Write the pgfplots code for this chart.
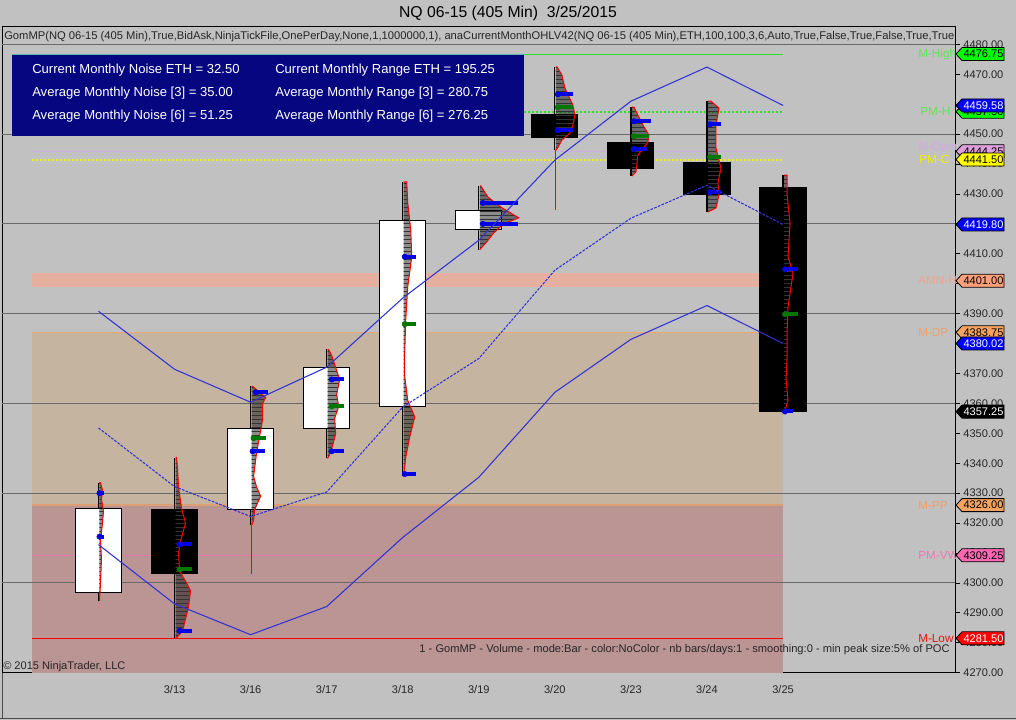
\documentclass[border=0pt]{standalone}
\usepackage{fontspec}
\setmainfont{Liberation Sans}
\usepackage{pgfplots}
\pgfplotsset{compat=1.18}
\usepackage{pgfplotstable}
\usetikzlibrary{patterns}

\definecolor{bgc}{RGB}{193,193,193}
\definecolor{tanz}{RGB}{197,180,160}
\definecolor{pinkz}{RGB}{187,148,148}
\definecolor{amnz}{RGB}{230,176,160}
\definecolor{gridc}{RGB}{105,105,105}
\definecolor{bandc}{RGB}{50,50,215}
\definecolor{navyb}{RGB}{6,6,128}
\definecolor{limeL}{RGB}{40,225,40}
\definecolor{limeT}{RGB}{90,230,90}
\definecolor{limeF}{RGB}{0,255,0}
\definecolor{plumL}{RGB}{210,170,225}
\definecolor{plumF}{RGB}{221,160,221}
\definecolor{yelL}{RGB}{240,240,0}
\definecolor{yelF}{RGB}{255,255,0}
\definecolor{sandy}{RGB}{244,164,96}
\definecolor{sandyT}{RGB}{235,160,110}
\definecolor{salm}{RGB}{255,160,122}
\definecolor{salmT}{RGB}{240,165,140}
\definecolor{hpink}{RGB}{255,105,180}
\definecolor{vwapL}{RGB}{225,120,170}
\definecolor{vwapT}{RGB}{235,120,180}
\definecolor{dgreen}{RGB}{0,120,0}
\definecolor{mblue}{RGB}{0,0,230}
\definecolor{tagblue}{RGB}{0,0,255}
\definecolor{redL}{RGB}{230,20,20}
\definecolor{boxedge}{RGB}{90,180,170}

\newcommand\tickf{\fontsize{8.3}{10}\selectfont}
\newcommand\yp[1]{{44.35+(4480-#1)*2.99213}}

% volume profiles: o = offset to the right of the bar centre (px), p = price
\pgfplotstableread{
o p
1 4294
2 4300
3 4308
2 4314
4 4320
5 4324
3 4328
4 4331
2 4333.5
1 4333.5
}\profA
\pgfplotstableread{
o p
1 4281.5
3 4282
8 4284
11 4288
14 4292
16 4297.4
12 4300
5 4304
4 4310
6 4314
11 4320
7 4325
4 4332
3 4338
2 4342
1 4342
}\profB
\pgfplotstableread{
o p
1 4319.2
3 4321
4 4324.5
10 4329
6 4332
3 4335.6
6 4343.6
9 4349
12 4354.6
12 4360
15 4362
8 4364
2 4365.7
1 4365.7
}\profC
\pgfplotstableread{
o p
1 4341.6
3 4343
6 4346
9 4350
8 4355
12 4359
10 4363
13 4368
9 4372
5 4376
2 4378
1 4378
}\profD
\pgfplotstableread{
o p
1 4335.6
3 4342
7 4348.8
12 4355.5
5 4361
2 4369
2 4377
3 4388
5 4399
9 4409
8 4418
5 4427
4 4434
1 4434
}\profE
\pgfplotstableread{
o p
1 4411.4
7 4413.6
15 4417
25 4420
40 4422
22 4425.6
9 4429
2 4432.7
1 4432.7
}\profF
\pgfplotstableread{
o p
1 4444.6
3 4445.5
7 4448
15 4450.3
18 4453
20 4456.4
18 4459.7
10 4465.4
7 4469.8
2 4472.5
1 4472.5
}\profG
\pgfplotstableread{
o p
1 4436
5 4437.3
7 4443
17 4447.3
18 4449.7
12 4453
7 4456.3
3 4459
1 4459
}\profH
\pgfplotstableread{
o p
1 4424
9 4425.3
12 4429.6
11 4433.9
14 4438.6
9 4445.3
9 4453
12 4458.7
4 4461
1 4461
}\profI
\pgfplotstableread{
o p
1 4356.7
2 4357.5
5 4361
3 4368
4 4375
4 4383.5
5 4392.2
10 4403.5
5 4409
7 4420.2
4 4430
4 4436.3
1 4436.3
}\profJ

\newcommand\profile[2]{%
  \addplot[draw=none, fill=black, fill opacity=0.45, postaction={pattern=horizontal lines, pattern color=black!80}] table[x expr={#1+\thisrow{o}/76.06}, y=p] {#2} -- cycle;
  \addplot[red, line width=0.75pt] table[x expr={#1+\thisrow{o}/76.06}, y=p] {#2};
}

\newcommand\ptag[4]{%
  \filldraw[fill=#2, draw=black, line width=0.6pt] (956,\yp{#1}) -- ++(6,-6.5) -- ++(42,0) -- ++(0,13) -- ++(-42,0) -- cycle;
  \node[text=#3, font=\tickf, inner sep=0pt] at (983.5,\yp{#1}) {#4};
}

\begin{document}
\begin{tikzpicture}
\useasboundingbox (0,0) rectangle (762pt,540pt);
\fill[bgc] (0,0) rectangle (762pt,540pt);
\begin{axis}[
  at={(1.5pt,35.25pt)}, anchor=south west,
  scale only axis, width=714.75pt, height=484.5pt,
  xmin=-1.2687, xmax=11.261, ymin=4269.9, ymax=4485.8,
  axis background/.style={fill=bgc},
  clip mode=individual,
  unbounded coords=jump,
  axis line style={black, line width=0.75pt},
  xtick={1,2,3,4,5,6,7,8,9},
  xticklabels={3/13,3/16,3/17,3/18,3/19,3/20,3/23,3/24,3/25},
  xtick pos=bottom, xtick style={draw=none},
  x tick label style={font=\tickf, text=black!85, yshift=-2pt},
  ytick={4270,4280,...,4480},
  ytick pos=right, yticklabel pos=right,
  tick align=outside, major tick length=3.75pt,
  ytick style={black, line width=0.6pt},
  y tick label style={font=\tickf, text=black!85, xshift=-1pt,
     /pgf/number format/fixed, /pgf/number format/fixed zerofill,
     /pgf/number format/precision=2, /pgf/number format/1000 sep={}},
  /pgf/number format/assume math mode=true,
]
% zones
\addplot[draw=none, fill=pinkz] coordinates {(-0.874,4269.9) (9,4269.9) (9,4326) (-0.874,4326)} -- cycle;
\addplot[draw=none, fill=tanz] coordinates {(-0.874,4326) (9,4326) (9,4383.75) (-0.874,4383.75)} -- cycle;
\addplot[draw=none, fill=amnz] coordinates {(-0.874,4398.8) (9,4398.8) (9,4403.7) (-0.874,4403.7)} -- cycle;
% grid every 30 points
\pgfplotsinvokeforeach{4300,4330,4360,4390,4420,4450,4480}{
  \addplot[gridc, line width=0.75pt] coordinates {(-1.2687,#1) (11.261,#1)};
}
% level lines
\addplot[limeL, line width=0.75pt] coordinates {(-0.874,4476.75) (9,4476.75)};
\addplot[limeL, line width=1.5pt, dash pattern=on 1.5pt off 1.5pt] coordinates {(-0.874,4457.5) (9,4457.5)};
\addplot[plumL, line width=0.75pt] coordinates {(-0.874,4444.25) (9,4444.25)};
\addplot[yelL, line width=1.5pt, dash pattern=on 1.5pt off 1.5pt] coordinates {(-0.874,4441.5) (9,4441.5)};
\addplot[sandy!70!tanz, line width=0.75pt] coordinates {(-0.874,4383.75) (9,4383.75)};
\addplot[sandy!60!pinkz, line width=1.2pt] coordinates {(-0.874,4326) (9,4326)};
\addplot[vwapL, line width=0.75pt] coordinates {(-0.874,4309.25) (9,4309.25)};
\addplot[red, line width=0.75pt] coordinates {(-0.874,4281.5) (9,4281.5)};
% info box (drawn over the level lines)
\addplot[draw=none, fill=navyb] coordinates {(-1.137,4476.3) (5.594,4476.3) (5.594,4449.4) (-1.137,4449.4)} -- cycle;
\addplot[boxedge, line width=0.75pt] coordinates {(-1.137,4476.6) (5.594,4476.6)};
% wicks
\addplot[black, line width=0.9pt] coordinates {
 (0,4293.9) (0,4333.5) (0,nan)
 (1,4281.5) (1,4341.9) (1,nan)
 (2,4319.2) (2,4365.7) (2,nan)
 (3,4341.6) (3,4378.1) (3,nan)
 (4,4335.6) (4,4434.0) (4,nan)
 (5,4411.4) (5,4432.7) (5,nan)
 (6,4444.6) (6,4472.5) (6,nan)
 (7,4436.0) (7,4459.1) (7,nan)
 (8,4424.0) (8,4461.0) (8,nan)
 (9,4356.7) (9,4436.3)};
% bodies
\addplot[fill=white, draw=black, line width=0.75pt] coordinates {(-0.303,4296.7) (0.303,4296.7) (0.303,4324.8) (-0.303,4324.8)} -- cycle;
\addplot[fill=black, draw=black, line width=0.75pt] coordinates {(0.697,4324.5) (1.303,4324.5) (1.303,4303.1) (0.697,4303.1)} -- cycle;
\addplot[fill=white, draw=black, line width=0.75pt] coordinates {(1.697,4324.5) (2.303,4324.5) (2.303,4351.5) (1.697,4351.5)} -- cycle;
\addplot[fill=white, draw=black, line width=0.75pt] coordinates {(2.697,4351.7) (3.303,4351.7) (3.303,4372.1) (2.697,4372.1)} -- cycle;
\addplot[fill=white, draw=black, line width=0.75pt] coordinates {(3.697,4358.8) (4.303,4358.8) (4.303,4421.2) (3.697,4421.2)} -- cycle;
\addplot[fill=white, draw=black, line width=0.75pt] coordinates {(4.697,4418.1) (5.303,4418.1) (5.303,4424.5) (4.697,4424.5)} -- cycle;
\addplot[fill=black, draw=black, line width=0.75pt] coordinates {(5.697,4456.4) (6.303,4456.4) (6.303,4448.8) (5.697,4448.8)} -- cycle;
\addplot[fill=black, draw=black, line width=0.75pt] coordinates {(6.697,4447.1) (7.303,4447.1) (7.303,4438.4) (6.697,4438.4)} -- cycle;
\addplot[fill=black, draw=black, line width=0.75pt] coordinates {(7.697,4440.4) (8.303,4440.4) (8.303,4429.8) (7.697,4429.8)} -- cycle;
\addplot[fill=black, draw=black, line width=0.75pt] coordinates {(8.697,4432.3) (9.303,4432.3) (9.303,4357.25) (8.697,4357.25)} -- cycle;
% volume profiles
\profile{0}{\profA}
\profile{1}{\profB}
\profile{2}{\profC}
\profile{3}{\profD}
\profile{4}{\profE}
\profile{5}{\profF}
\profile{6}{\profG}
\profile{7}{\profH}
\profile{8}{\profI}
\profile{9}{\profJ}
\addplot[red, line width=0.75pt] coordinates {(2.013,4302.9) (2.013,4319.2)};
\addplot[red, line width=0.75pt] coordinates {(6.013,4424.6) (6.013,4444.6)};
% blue and green profile marks
\addplot[mblue, only marks, mark=none, error bars/.cd, x dir=plus, x explicit, error mark=none,
  error bar style={line width=3pt, mblue}] coordinates {
 (0.013,4330) +- (0.053,0)  (0.013,4315.5) +- (0.053,0)
 (1.066,4312.9) +- (0.158,0) (1.066,4284) +- (0.158,0)
 (2.066,4363.7) +- (0.158,0) (2.026,4344) +- (0.158,0)
 (3.066,4368) +- (0.158,0) (3.066,4344) +- (0.158,0)
 (4.026,4409) +- (0.145,0) (4.026,4336.4) +- (0.145,0)
 (5.053,4427) +- (0.46,0) (5.053,4420) +- (0.46,0)
 (6.039,4463.3) +- (0.2,0) (6.039,4451.3) +- (0.2,0)
 (7.039,4454.3) +- (0.22,0) (7.039,4445) +- (0.17,0)
 (8.039,4453.3) +- (0.145,0) (8.039,4430.6) +- (0.145,0)
 (9.026,4404.8) +- (0.17,0) (9.026,4357.3) +- (0.1,0)};
\addplot[dgreen, only marks, mark=none, error bars/.cd, x dir=plus, x explicit, error mark=none,
  error bar style={line width=3pt, dgreen}] coordinates {
 (1.066,4304.5) +- (0.158,0)
 (2.039,4348.4) +- (0.158,0)
 (3.066,4359) +- (0.158,0)
 (4.026,4386.5) +- (0.145,0)
 (6.039,4459) +- (0.2,0)
 (7.039,4449.3) +- (0.2,0)
 (8.039,4442.3) +- (0.145,0)
 (9.026,4389.8) +- (0.17,0)};
% bands
\addplot[bandc, line width=0.8pt] coordinates {(0,4390.8) (1,4371.4) (2,4360.4) (3,4372.1) (4,4395.2) (5,4414.5) (6,4441.3) (7,4461) (8,4472.4) (9,4459.58)};
\addplot[bandc, line width=0.8pt, dash pattern=on 2pt off 1pt] coordinates {(0,4351.8) (1,4332.2) (2,4322.2) (3,4330.4) (4,4358.8) (5,4375) (6,4404.5) (7,4421.9) (8,4432.9) (9,4419.8)};
\addplot[bandc, line width=0.8pt] coordinates {(0,4312.8) (1,4293) (2,4282.7) (3,4292.1) (4,4315.2) (5,4335.3) (6,4363.7) (7,4381.4) (8,4392.7) (9,4380.02)};
\end{axis}

\begin{scope}[x=0.75pt, y=-0.75pt, shift={(0pt,540pt)}]
\node[font=\fontsize{11.8}{14}\selectfont] at (508,13) {NQ 06-15 (405 Min)\ \ 3/25/2015};
\node[anchor=west, font=\fontsize{8.4}{9}\selectfont, text=black!85, inner sep=0pt] at (4,37)
 {GomMP(NQ 06-15 (405 Min),True,BidAsk,NinjaTickFile,OnePerDay,None,1,1000000,1), anaCurrentMonthOHLV42(NQ 06-15 (405 Min),ETH,100,100,3,6,Auto,True,False,True,False,True,True};
\begin{scope}[every node/.style={anchor=west, text=white, inner sep=0pt, font=\fontsize{9.8}{12}\selectfont}]
\node at (32,70.5) {Current Monthly Noise ETH = 32.50};
\node at (32,93) {Average Monthly Noise [3] = 35.00};
\node at (32,116.5) {Average Monthly Noise [6] = 51.25};
\node at (275,70.5) {Current Monthly Range ETH = 195.25};
\node at (275,93) {Average Monthly Range [3] = 280.75};
\node at (275,116.5) {Average Monthly Range [6] = 276.25};
\end{scope}
\node[anchor=east, font=\fontsize{8.35}{9}\selectfont, text=black!85, inner sep=0pt] at (950,650)
 {1 - GomMP - Volume - mode:Bar - color:NoColor - nb bars/days:1 - smoothing:0 - min peak size:5\% of POC};
\node[anchor=west, font=\tickf, text=black!85, inner sep=0pt] at (3,667) {© 2015 NinjaTrader, LLC};
% zone names, cut at the price axis
\begin{scope}
\clip (0,0) rectangle (955,720);
\begin{scope}[every node/.style={anchor=west, inner sep=0pt, font=\fontsize{8.8}{10}\selectfont}]
\node[text=limeT] at (918,\yp{4476.75}) {M-High};
\node[text=limeT] at (920,\yp{4457.5}) {PM-H};
\node[text=plumL] at (918,\yp{4445.5}) {M-Open};
\node[text=yelL] at (919,\yp{4441.5}) {PM-C};
\node[text=salmT] at (918,\yp{4401}) {AMN-H};
\node[text=sandyT] at (918,\yp{4383.75}) {M-DP};
\node[text=sandyT] at (918,\yp{4326}) {M-PP};
\node[text=vwapT] at (918,\yp{4309.25}) {PM-VWAP};
\node[text=redL] at (918,\yp{4281.5}) {M-Low};
\end{scope}
\end{scope}
% price tags
\ptag{4476.75}{limeF}{black}{4476.75}
\ptag{4457.50}{limeF}{black}{4457.50}
\ptag{4459.58}{tagblue}{white}{4459.58}
\ptag{4444.25}{plumF}{black}{4444.25}
\ptag{4441.50}{yelF}{black}{4441.50}
\ptag{4419.80}{tagblue}{white}{4419.80}
\ptag{4401.00}{salm}{black}{4401.00}
\ptag{4383.75}{sandy}{black}{4383.75}
\ptag{4380.02}{tagblue}{white}{4380.02}
\ptag{4357.25}{black}{white}{4357.25}
\ptag{4326.00}{sandy}{black}{4326.00}
\ptag{4309.25}{hpink}{black}{4309.25}
\ptag{4281.50}{red}{white}{4281.50}
\draw[black!70, line width=0.75pt] (0,719) -- (1016,719);
\draw[black!70, line width=0.75pt] (2,673) -- (2,719);
\end{scope}
\end{tikzpicture}
\end{document}
